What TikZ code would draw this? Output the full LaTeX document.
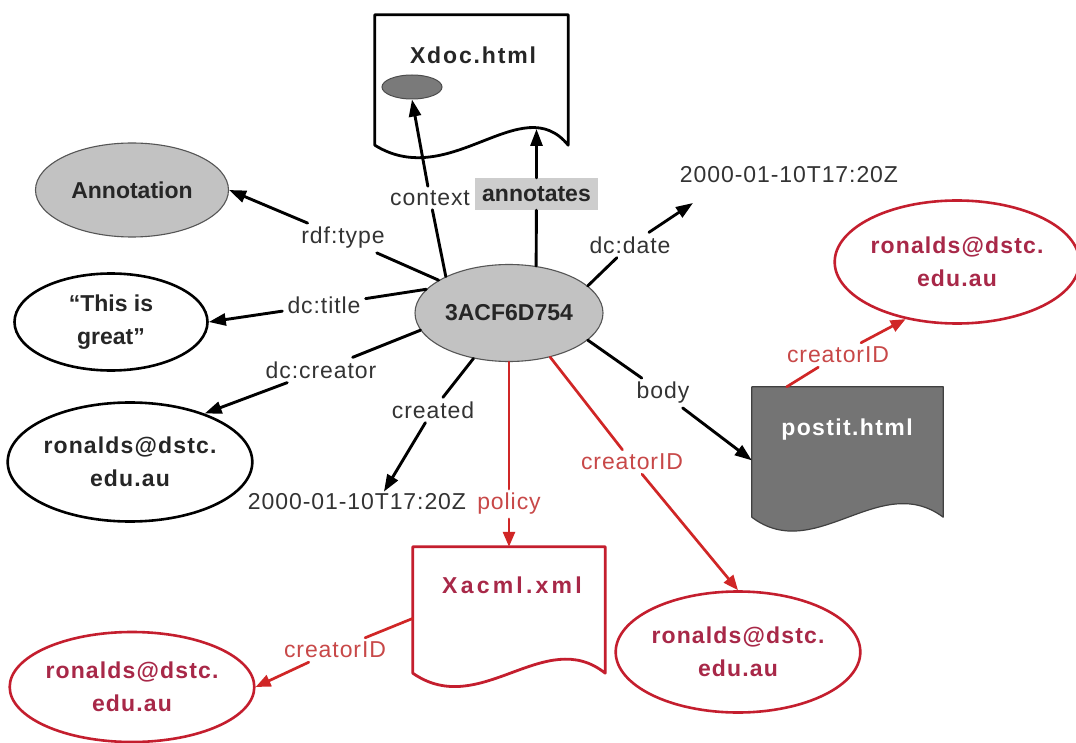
\documentclass[tikz,border=0pt]{standalone}
\usepackage{fontspec}
\setmainfont{Liberation Sans}
\usetikzlibrary{shapes.geometric,arrows.meta}

\definecolor{nodegray}{HTML}{C2C2C2}
\definecolor{rimgray}{HTML}{555555}
\definecolor{docgray}{HTML}{747474}
\definecolor{dotgray}{HTML}{7A7A7A}
\definecolor{edgered}{HTML}{D02626}
\definecolor{rimred}{HTML}{C41E2E}
\definecolor{namered}{HTML}{A82848}
\definecolor{tagred}{HTML}{C84848}
\definecolor{tagtext}{HTML}{333333}
\definecolor{tagfill}{HTML}{CDCDCD}

\begin{document}
\begin{tikzpicture}[x=1pt,y=-1pt,
  namefont/.style={font=\fontsize{23}{33}\selectfont\bfseries\addfontfeatures{LetterSpace=#1}},
  namefont/.default=0,
  tag/.style={font=\fontsize{23}{27}\selectfont\addfontfeatures{LetterSpace=4},
    text=tagtext, inner xsep=5pt, inner ysep=4pt},
  redtag/.style={tag, text=tagred},
  grayoval/.style={ellipse, fill=nodegray, draw=rimgray, line width=1.1pt,
    inner sep=0pt, namefont, text=black!85},
  blackoval/.style={ellipse, draw=black, line width=2.6pt, fill=white,
    inner sep=0pt, namefont=5, text=black!85, align=center},
  redoval/.style={ellipse, draw=rimred, line width=2.6pt, fill=white,
    inner sep=0pt, namefont=5, text=namered, align=center},
  pagebox/.style={rectangle, inner sep=0pt, draw=none},
  blackline/.style={line width=2.9pt, draw=black, line cap=round},
  redline/.style={line width=2.7pt, draw=edgered, line cap=round},
  tip/.style={-{Triangle[length=17pt,width=12pt]}},
  redtip/.style={-{Triangle[length=15pt,width=12pt]}}
]
\fill[white] (0,0) rectangle (1076,743);
\useasboundingbox (0,0) rectangle (1076,743);

% ---- pages ----
% Xdoc.html
\node[pagebox, minimum width=193pt, minimum height=130pt] (xdoc) at (471.5,80) {};
\draw[line width=2.8pt, line join=round, fill=white]
  (xdoc.south west) -- (xdoc.north west) -- (xdoc.north east) -- (xdoc.south east)
  .. controls (522,88) and (450,192) .. (xdoc.south west) -- cycle;
\node[namefont=8, text=black!85] (xdoctext) at (473,55) {Xdoc.html};
\node[ellipse, fill=dotgray, draw=black!70, line width=1pt,
  minimum width=60pt, minimum height=24pt, inner sep=0pt] (dot) at (412,87) {};
\coordinate (xdocw) at (536.5,129);

% Xacml.xml
\node[pagebox, minimum width=192pt, minimum height=126pt] (xacml) at (509,610) {};
\draw[line width=2.8pt, line join=round, draw=rimred, fill=white]
  (xacml.south west) -- (xacml.north west) -- (xacml.north east) -- (xacml.south east)
  .. controls (545,625) and (480,720) .. (xacml.south west) -- cycle;
\node[namefont=14, text=namered] (xacmltext) at (512,585) {Xacml.xml};

% postit.html
\node[pagebox, minimum width=191pt, minimum height=130pt] (postit) at (847.5,452) {};
\draw[line width=1.2pt, line join=round, draw=black!75, fill=docgray]
  (postit.south west) -- (postit.north west) -- (postit.north east) -- (postit.south east)
  .. controls (880,470) and (815,565) .. (postit.south west) -- cycle;
\node[namefont=6, text=white] (postittext) at (847,430) {postit.html};

% ---- resources ----
\node[grayoval, minimum width=188pt, minimum height=97pt] (c) at (509,313) {3ACF6D754};
\node[grayoval, minimum width=193pt, minimum height=94pt] (annot) at (132,190) {Annotation};
\node[blackoval, namefont=0, minimum width=193pt, minimum height=97pt] (great) at (111,322) {“This is\\great”};
\node[blackoval, minimum width=236pt, minimum height=119pt] (bcreator) at (130,462) {ronalds@dstc.\\edu.au};
\node[redoval, minimum width=235pt, minimum height=123pt] (rtop) at (957,262) {ronalds@dstc.\\edu.au};
\node[redoval, minimum width=240pt, minimum height=121pt] (rright) at (738,652) {ronalds@dstc.\\edu.au};
\node[redoval, minimum width=229pt, minimum height=110pt] (rleft) at (132,687) {ronalds@dstc.\\edu.au};

% ---- literals ----
\node[tag, inner sep=2pt] (date1) at (357,502) {2000-01-10T17:20Z};
\node[tag, inner sep=2pt] (date2) at (789,175) {2000-01-10T17:20Z};
\coordinate (dtip) at (693,203);

% ---- property labels ----
\node[tag] (lctx) at (430,198) {context};
\node[tag, fill=tagfill, namefont=0, text=black!85, minimum width=123pt, minimum height=32pt, inner sep=2pt] (lann) at (536.5,194) {annotates};
\node[tag] (lrdf) at (343,238) {rdf:type};
\node[tag] (ltitle) at (324,305) {dc:title};
\node[tag] (lcreator) at (321,370) {dc:creator};
\node[tag] (lcreated) at (433,410) {created};
\node[tag] (ldate) at (630,245) {dc:date};
\node[tag] (lbody) at (663,393) {body};
\node[redtag] (lpolicy) at (509,504) {policy};
\node[redtag] (lcid1) at (632,462) {creatorID};
\node[redtag] (lcid2) at (838,355) {creatorID};
\node[redtag] (lcid3) at (335,650) {creatorID};

% ---- black properties ----
\draw[blackline] (c.150) -- (lctx);
\draw[blackline, tip] (lctx) -- (dot.south);
\draw[blackline] (c.60) -- (lann);
\draw[blackline, tip] (lann) -- (xdocw);
\draw[blackline] (c.155) -- (lrdf);
\draw[blackline, tip] (lrdf) -- (annot.east);
\draw[blackline] (c.164) -- (ltitle);
\draw[blackline, tip] (ltitle) -- (great.east);
\draw[blackline] (c.191) -- (lcreator);
\draw[blackline, tip] (lcreator) -- (bcreator.33);
\draw[blackline] (c.232) -- (lcreated);
\draw[blackline, tip] (lcreated) -- (date1.21);
\draw[blackline] (c.19) -- (ldate);
\draw[blackline, tip] (ldate) -- (dtip);
\draw[blackline] (c.-19) -- (lbody);
\draw[blackline, tip] (lbody) -- (postit.185);

% ---- red properties ----
\draw[redline] (c.south) -- (lpolicy);
\draw[redline, redtip] (lpolicy) -- (xacml.north);
\draw[redline] (c.-47) -- (lcid1);
\draw[redline, redtip] (lcid1) -- (rright.north);
\draw[redline] (postit.133) -- (lcid2);
\draw[redline, redtip] (lcid2) -- (rtop.228);
\draw[redline] (xacml.185) -- (lcid3);
\draw[redline, redtip] (lcid3) -- (rleft.east);
\end{tikzpicture}
\end{document}
